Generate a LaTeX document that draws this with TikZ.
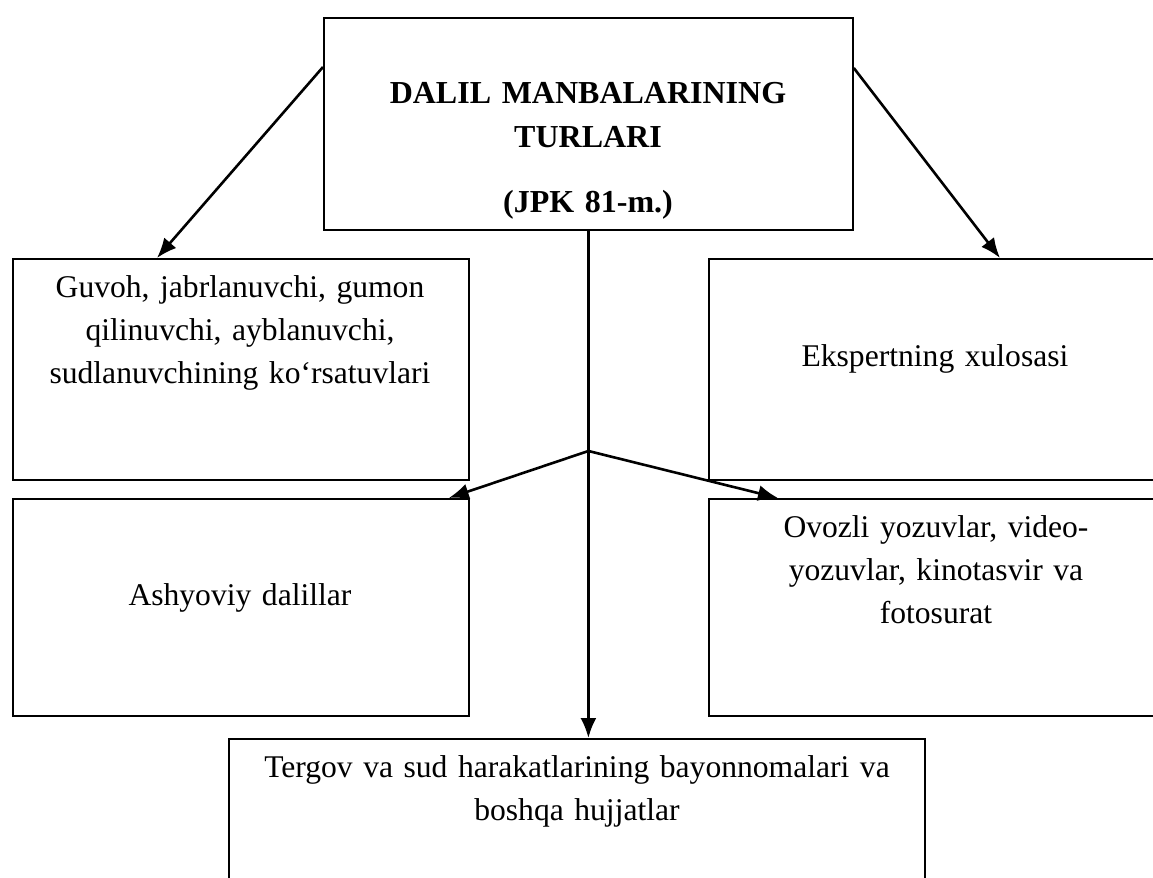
\documentclass[tikz,border=0pt]{standalone}
\usepackage{fontspec}
\setmainfont{Liberation Serif}
\usetikzlibrary{arrows.meta,calc}

\def\pxu{0.5pt}
\tikzset{>={Latex[length=10pt,width=8pt]}}
\tikzset{
  box/.style={draw,line width=0.9pt,inner sep=0pt,anchor=north west},
  txt/.style={font=\fontsize{15.8}{21.5}\selectfont,align=center,
    text width=440*\pxu,inner sep=0pt,anchor=base},
  head/.style={txt,font=\fontsize{16}{21.5}\selectfont\bfseries},
  link/.style={->,line width=1.3pt},
}

\begin{document}
\begin{tikzpicture}[x=0.5pt,y=-0.5pt]
  \useasboundingbox (0,0) rectangle (1153,878);
  \clip (0,0) rectangle (1153,878);

  % boxes
  \node[box,minimum width=529*\pxu,minimum height=212*\pxu] (turlar) at (323,17) {};
  \node[box,minimum width=456*\pxu,minimum height=221*\pxu] (guvoh) at (12,258) {};
  \node[box,minimum width=460*\pxu,minimum height=221*\pxu] (ekspert) at (708,258) {};
  \node[box,minimum width=456*\pxu,minimum height=217*\pxu] (ashyo) at (12,498) {};
  \node[box,minimum width=460*\pxu,minimum height=217*\pxu] (ovoz) at (708,498) {};
  \node[box,minimum width=696*\pxu,minimum height=160*\pxu] (tergov) at (228,738) {};

  % texts
  \node[head] (turlarT) at (588,104) {DALIL MANBALARINING\\TURLARI};
  \node[head] (jpkT) at (588,212) {(JPK 81-m.)};
  \node[txt] (guvohT) at (240,297)
    {Guvoh, jabrlanuvchi, gumon\\qilinuvchi, ayblanuvchi,\\sudlanuvchining ko‘rsatuvlari};
  \node[txt] (ekspertT) at (935,366) {Ekspertning xulosasi};
  \node[txt] (ashyoT) at (240,605) {Ashyoviy dalillar};
  \node[txt] (ovozT) at (936,537)
    {Ovozli yozuvlar, video-\\yozuvlar, kinotasvir va\\fotosurat};
  \node[txt,text width=680*\pxu] (tergovT) at (577,777)
    {Tergov va sud harakatlarining bayonnomalari va\\boshqa hujjatlar};

  % connectors
  \coordinate (fork) at (turlar.south |- 0,451);
  \draw[link] ($(turlar.north west)+(0,50)$) -- ($(guvoh.north west)+(145,0)$);
  \draw[link] ($(turlar.north east)+(0,51)$) -- ($(ekspert.north west)+(292,0)$);
  \draw[link] (turlar.south) -- (turlar.south |- tergov.north);
  \draw[link] (fork) -- ($(ashyo.north east)+(-21,0)$);
  \draw[link] (fork) -- ($(ovoz.north west)+(70,0)$);
\end{tikzpicture}
\end{document}
